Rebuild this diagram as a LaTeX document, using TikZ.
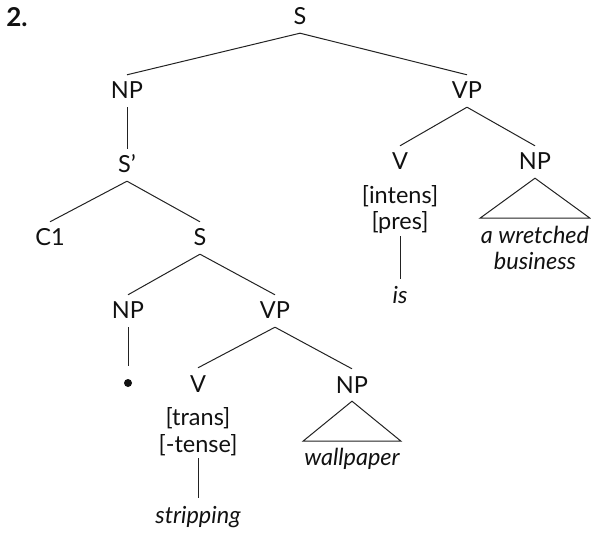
\documentclass[tikz,border=0pt]{standalone}
\usepackage{fontspec}
\setmainfont{Lato}
\usetikzlibrary{positioning}

\begin{document}
\begin{tikzpicture}[
    x=1pt, y=-1pt,
    every node/.style={font=\fontsize{23.5}{28}\selectfont},
]

% ---------------------------------------------------------------- colours
\definecolor{ink}{HTML}{111111}    % labels, the gap dot
\definecolor{edge}{HTML}{222222}   % branches and roofs

% ================================================================
% Layout, in pixels of the 591 x 534 page, y running downwards.
%
%   rows (label centres): S 17 | NP VP 91 | S' V NP 162-165
%   C1 S 238 | NP VP 311 | dot V NP 384 | leaves below
%   a category's branch meets it 16 above / below its centre
%   roofs: 40 high, under the two object NPs
% ================================================================

\tikzset{
    cat/.style={text=ink, text height=16pt, text depth=0pt,
        inner xsep=1pt, inner ysep=8pt},
    feat/.style={cat, inner ysep=6pt},
    leaf/.style={cat, inner ysep=9pt,
        font=\fontsize{23.5}{28}\selectfont\itshape},
    branch/.style={draw=edge, line width=1pt},
    roof/.style={branch, line join=miter},
    gapdot/.style={circle, fill=ink, minimum size=8pt, inner sep=0pt},
}

\useasboundingbox (0,0) rectangle (591,534);

\node[font=\fontsize{26}{30}\selectfont\bfseries, text=ink] (num) at (17,17) {2.};

% ---------------------------------------------------------------- categories
\foreach \n/\x/\y/\t in {s/300/17/S, np/127/91/NP, vp/467/91/VP,
        sbar/127/165/S’, c1/50/238/C1, s2/200/238/S,
        np2/128/311/NP, vp2/275/311/VP,
        v1/400/162/V, np4/535/162/NP,
        v2/198/384/V, np3/352/385/NP} {
    \node[cat] (\n) at (\x,\y) {\t};
}

% ---------------------------------------------------------------- features
\foreach \n/\x/\y/\t in {f11/400/196/[intens], f12/400/222/[pres],
        f21/198/417/[trans], f22/198/444/[-tense]} {
    \node[feat] (\n) at (\x,\y) {\t};
}

% ---------------------------------------------------------------- words
\node[leaf] (is) at (400,296) {is};
\node[leaf] (strip) at (198,515) {stripping};
\node[leaf] (wall) at (352,457) {wallpaper};
\node[leaf] (wretch) at (535,236) {a wretched};
\node[leaf] (bus) at (535,262) {business};

\node[gapdot] (gap) at (128,383) {};

% ---------------------------------------------------------------- branches
\foreach \a/\b in {s/np, s/vp, np/sbar, sbar/c1, sbar/s2, s2/np2, s2/vp2,
        vp/v1, vp/np4, vp2/v2, vp2/np3, f12/is, f22/strip} {
    \draw[branch] (\a.south) -- (\b.north);
}
\draw[branch, shorten >=13pt] (np2.south) -- (gap);

% ---------------------------------------------------------------- roofs
\draw[roof] (np4.south) -- ++(-55,40) -- ++(110,0) -- cycle;
\draw[roof] (np3.south) -- ++(-49,40) -- ++(98,0) -- cycle;

\end{tikzpicture}
\end{document}
